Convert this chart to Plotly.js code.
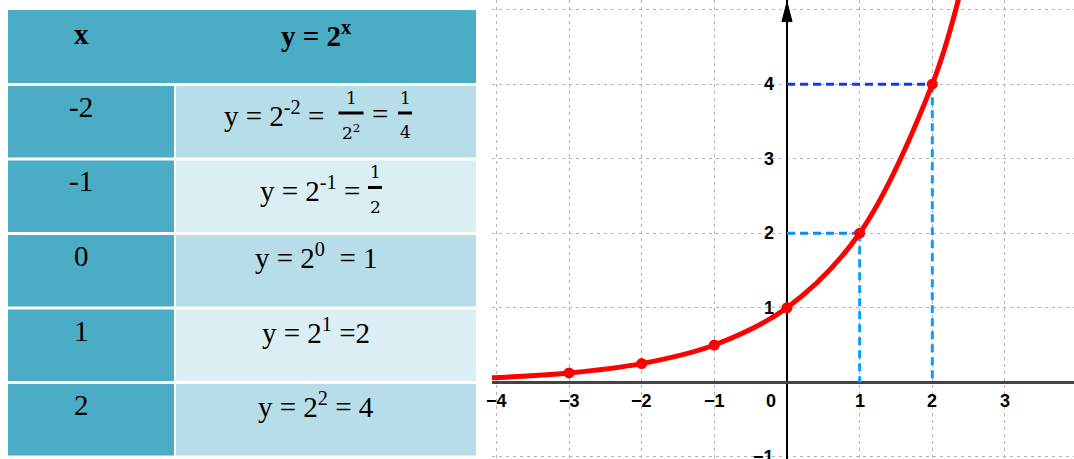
<!DOCTYPE html>
<html>
<head>
<meta charset="utf-8">
<script src="https://cdn.plot.ly/plotly-3.0.1.min.js"></script>
<style>html,body{margin:0;padding:0;background:#fff;}#chart{width:1074px;height:459px;}</style>
</head>
<body>
<div id="chart"></div>
<script>
// ---- data ----
const headerX = 'x';
const headerY = 'y = 2<sup>x</sup>';
const xValues = ['-2', '-1', '0', '1', '2'];
const formulaText = ['y = 2<sup>-2</sup> =', 'y = 2<sup>-1</sup> =', 'y = 2<sup>0</sup>  = 1', 'y = 2<sup>1</sup> =2', 'y = 2<sup>2</sup> = 4'];
const fractionNum = [['1', '1'], ['1'], [], [], []];
const fractionDen = [['2<sup>2</sup>', '4'], ['2'], [], [], []];

const curveX = [-4.06, -3, -2, -1, 0, 1, 2, 2.36];
const curveY = [0.06, 0.125, 0.25, 0.5, 1, 2, 4, 5.14];
const pointX = [-3, -2, -1, 0, 1, 2];
const pointY = [0.125, 0.25, 0.5, 1, 2, 4];
const guideX = [1, 2];
const guideY = [2, 4];
const xTickVals = [-4, -3, -2, -1, 1, 2, 3, 4];
const xTickText = ['−4', '−3', '−2', '−1', '1', '2', '3', '4'];
const yTickVals = [-1, 1, 2, 3, 4];
const yTickText = ['−1', '1', '2', '3', '4'];

// ---- geometry helpers (pixel -> paper) ----
const W = 1074, H = 459;
const px = v => v / W;
const py = v => 1 - v / H;

const shapes = [];
const annotations = [];

// table
const tL = 8, c1R = 174, c2L = 176, tR = 476;
const hTop = 10, hBot = 83;
const rowTop0 = 86, rowStep = 74.5, rowH = 71.5;
const dark = '#4BACC6', light = '#B7DDE8', lighter = '#DAEEF3';
const serif = 'Liberation Serif, Times New Roman, serif';
const mathFont = 'DejaVu Serif, serif';
const bodySize = 29;

function rect(x0, y0, x1, y1, color) {
  shapes.push({type: 'rect', xref: 'paper', yref: 'paper', x0: px(x0), x1: px(x1), y0: py(y1), y1: py(y0),
    fillcolor: color, line: {width: 0}, layer: 'below'});
}
function text(x, y, t, size, family, anchor) {
  annotations.push({xref: 'paper', yref: 'paper', x: px(x), y: py(y), text: t, showarrow: false,
    xanchor: anchor || 'center', yanchor: 'middle', font: {family: family, size: size, color: '#000'}});
}

rect(tL, hTop, tR, hBot, dark);
text(81, 34, '<b>' + headerX + '</b>', bodySize, serif);
text(316, 34, '<b>' + headerY + '</b>', bodySize, serif);

const fracLayout = [
  {end: 326, centers: [351, 405], halfw: [12.5, 7], eq: [380]},
  {end: 362, centers: [375], halfw: [7], eq: []}
];

xValues.forEach((xv, i) => {
  const top = rowTop0 + i * rowStep;
  rect(tL, top, c1R, top + rowH, dark);
  rect(c2L, top, tR, top + rowH, i % 2 === 0 ? light : lighter);
  text(81, top + 21, xv, bodySize, serif);
  if (fractionNum[i].length) {
    const fl = fracLayout[i];
    text(fl.end, top + 28, formulaText[i], bodySize, serif, 'right');
    fractionNum[i].forEach((n, k) => {
      const c = fl.centers[k];
      text(c, top + 11.5, n, 17, mathFont);
      text(c, top + 46, fractionDen[i][k], 17, mathFont);
      shapes.push({type: 'line', xref: 'paper', yref: 'paper', x0: px(c - fl.halfw[k]), x1: px(c + fl.halfw[k]),
        y0: py(top + 27), y1: py(top + 27), line: {color: '#000', width: 3}});
    });
    fl.eq.forEach(e => text(e, top + 28, '=', bodySize, serif));
  } else {
    text(316, top + 21, formulaText[i], bodySize, serif);
  }
});

// axis tick labels placed along the axes
const tickFont = {family: 'Liberation Sans, Arial, sans-serif', size: 18, color: '#000'};
xTickVals.forEach((v, i) => annotations.push({x: v, y: 0, xref: 'x', yref: 'y', text: '<b>' + xTickText[i] + '</b>',
  showarrow: false, yshift: -19, xanchor: 'center', yanchor: 'middle', font: tickFont}));
annotations.push({x: 0, y: 0, xref: 'x', yref: 'y', text: '<b>0</b>', showarrow: false, xshift: -16, yshift: -19,
  xanchor: 'center', yanchor: 'middle', font: tickFont});
yTickVals.forEach((v, i) => annotations.push({x: 0, y: v, xref: 'x', yref: 'y', text: '<b>' + yTickText[i] + '</b>',
  showarrow: false, xshift: -11, xanchor: 'right', yanchor: 'middle', font: tickFont}));

// arrow head on y axis
shapes.push({type: 'path', xref: 'x', yref: 'y', path: 'M -0.07,4.84 L 0,5.1 L 0.07,4.84 Z',
  fillcolor: '#000', line: {color: '#000', width: 1}});

// ---- traces ----
const traces = [];
guideX.forEach((gx, i) => {
  const gy = guideY[i];
  traces.push({x: [0, gx], y: [gy, gy], mode: 'lines', hoverinfo: 'skip', showlegend: false,
    line: {color: i === 1 ? '#1238ff' : '#0a8cff', width: 3, dash: '8px,5px'}});
  traces.push({x: [gx, gx], y: [gy, 0], mode: 'lines', hoverinfo: 'skip', showlegend: false,
    line: {color: '#0a9dff', width: 3, dash: '8px,5px'}});
});
traces.push({x: curveX, y: curveY, mode: 'lines', line: {color: '#ff0000', width: 5, shape: 'spline'}, showlegend: false});
traces.push({x: pointX, y: pointY, mode: 'markers', marker: {color: '#ff0000', size: 11}, showlegend: false});

const layout = {
  width: W, height: H,
  margin: {l: 0, r: 0, t: 0, b: 0, pad: 0},
  paper_bgcolor: '#fff', plot_bgcolor: '#fff',
  showlegend: false,
  xaxis: {domain: [492 / W, 1], range: [-4.06, 3.95], tick0: 0, dtick: 1, showticklabels: false, ticks: '',
    showgrid: true, gridcolor: '#b0b0b0', gridwidth: 1, griddash: '3px,4px',
    zeroline: true, zerolinecolor: '#000', zerolinewidth: 1.5, showline: false, fixedrange: true},
  yaxis: {domain: [0, 1], range: [-1.03, 5.13], tick0: 0, dtick: 1, showticklabels: false, ticks: '',
    showgrid: true, gridcolor: '#b0b0b0', gridwidth: 1, griddash: '3px,4px',
    zeroline: true, zerolinecolor: '#444', zerolinewidth: 2.5, showline: false, fixedrange: true},
  shapes: shapes,
  annotations: annotations
};

Plotly.newPlot('chart', traces, layout, {displayModeBar: false, staticPlot: true});
</script>
</body>
</html>
